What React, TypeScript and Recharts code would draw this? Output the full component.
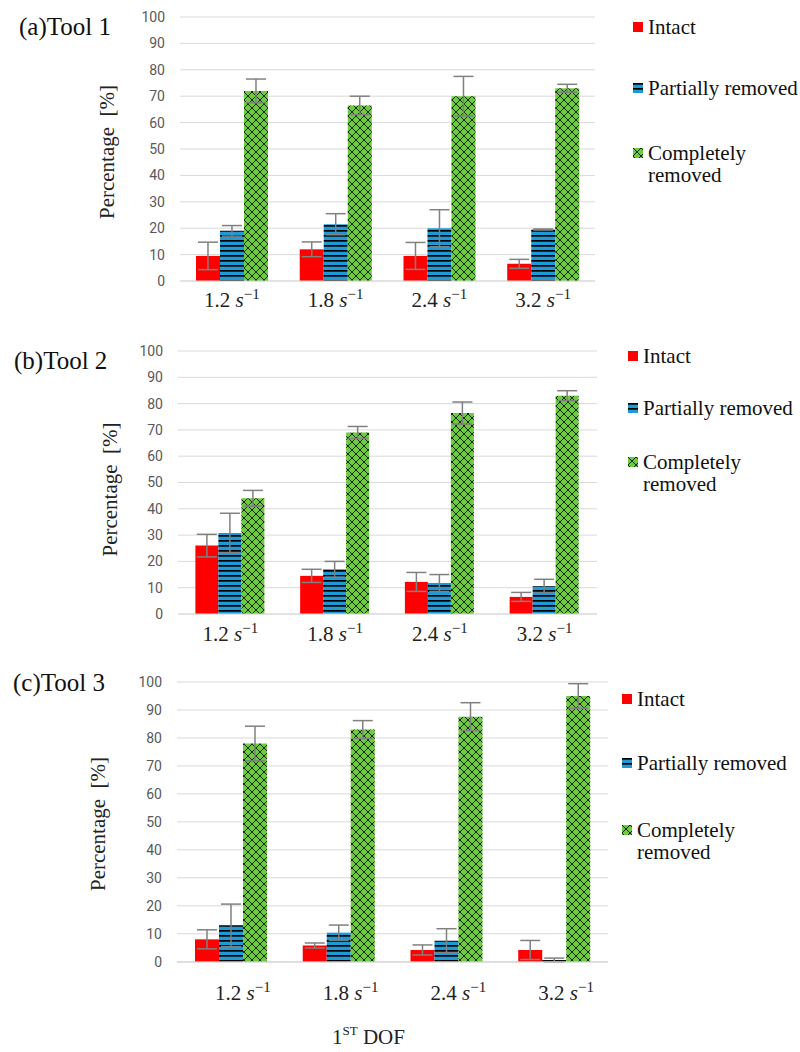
import React from "react";
import { BarChart, Bar, XAxis, YAxis, CartesianGrid, ErrorBar, Legend } from "recharts";

// strain rates on the x axis
const categories = ["1.2", "1.8", "2.4", "3.2"];

const tool1Intact = [9.5, 12, 9.5, 6.5];
const tool1IntactErr = [5.2, 2.8, 5.1, 1.7];
const tool1Partial = [19, 21.5, 20, 19.5];
const tool1PartialErr = [2, 4, 7, 0.2];
const tool1Complete = [72, 66.5, 70, 73];
const tool1CompleteErr = [4.5, 3.5, 7.5, 1.5];

const tool2Intact = [26, 14.5, 12.2, 6.5];
const tool2IntactErr = [4.3, 2.5, 3.6, 1.7];
const tool2Partial = [30.8, 17, 11.8, 10.6];
const tool2PartialErr = [7.5, 3, 3.2, 2.6];
const tool2Complete = [44, 69, 76.4, 83];
const tool2CompleteErr = [3, 2.3, 4.2, 1.9];

const tool3Intact = [8, 5.8, 4.2, 4.2];
const tool3IntactErr = [3.4, 0.9, 1.8, 3.4];
const tool3Partial = [13, 10.4, 7.5, 0.6];
const tool3PartialErr = [7.6, 2.7, 4.3, 0.7];
const tool3Complete = [78, 83, 87.6, 95];
const tool3CompleteErr = [6.2, 3.2, 5, 4.4];

const yTicks = [0, 10, 20, 30, 40, 50, 60, 70, 80, 90, 100];

const serif = '"Liberation Serif", "Times New Roman", serif';

const build = (a: number[], ae: number[], b: number[], be: number[], c: number[], ce: number[]) =>
  categories.map((cat, i) => ({
    cat,
    intact: a[i],
    intactErr: ae[i],
    partial: b[i],
    partialErr: be[i],
    complete: c[i],
    completeErr: ce[i],
  }));

const legendItems = [
  { key: "intact", fill: "#FF0000", lines: ["Intact"] },
  { key: "partial", fill: "url(#hstripe)", lines: ["Partially removed"] },
  { key: "complete", fill: "url(#xhatch)", lines: ["Completely", "removed"] },
];

const PanelLegend = ({ centers }: { centers: number[] }) => (
  <div style={{ position: "relative", width: 180, height: 300, fontFamily: serif, fontSize: 21, color: "#111" }}>
    {legendItems.map((it, i) => (
      <div key={it.key} style={{ position: "absolute", left: 0, top: centers[i] - 11 }}>
        <svg width={10} height={10} style={{ position: "absolute", left: 0, top: 6 }}>
          <rect width={10} height={10} fill={it.fill} />
        </svg>
        <div style={{ position: "absolute", left: 15, top: 0, lineHeight: "22px", whiteSpace: "nowrap" }}>
          {it.lines.map((l) => (
            <div key={l}>{l}</div>
          ))}
        </div>
      </div>
    ))}
  </div>
);

const CatTick = (props: any) => {
  const { x, y, payload, baseline, dx } = props;
  return (
    <text x={x + dx} y={y + baseline} textAnchor="middle" fontFamily={serif} fontSize={21} fill="#222">
      <tspan>{payload.value} </tspan>
      <tspan fontStyle="italic">s</tspan>
      <tspan dy={-8} fontSize={15}>−1</tspan>
    </text>
  );
};

interface PanelProps {
  data: any[];
  title: string;
  top: number;
  height: number;
  marginTop: number;
  marginRight: number;
  yAxisWidth: number;
  xAxisHeight: number;
  gap: string;
  tickBaseline: number;
  tickDx: number;
  titleLeft: number;
  titleCenter: number;
  legendLeft: number;
  legendCenters: number[];
  yLabelX: number;
  yLabelShift: number;
  showXTitle?: boolean;
}

const Panel = (p: PanelProps) => (
  <div style={{ position: "absolute", left: 0, top: p.top, width: 800, height: p.height }}>
    <div
      style={{
        position: "absolute",
        left: p.titleLeft,
        top: p.titleCenter - 13,
        fontFamily: serif,
        fontSize: 25,
        lineHeight: "26px",
        color: "#111",
        whiteSpace: "nowrap",
      }}
    >
      {p.title}
    </div>
    <BarChart
      width={800}
      height={p.height}
      data={p.data}
      margin={{ top: p.marginTop, right: p.marginRight, left: 0, bottom: 0 }}
      barCategoryGap={p.gap}
      barGap={0}
    >
      <CartesianGrid vertical={false} stroke="#d9d9d9" />
      <XAxis
        dataKey="cat"
        height={p.xAxisHeight}
        tickLine={false}
        tickSize={0}
        tickMargin={0}
        axisLine={{ stroke: "#d9d9d9" }}
        interval={0}
        tick={<CatTick baseline={p.tickBaseline} dx={p.tickDx} />}
        label={
          p.showXTitle
            ? (lp: any) => {
                const vb = lp.viewBox;
                return (
                  <text
                    x={vb.x + vb.width / 2 - 24}
                    y={vb.y + 82}
                    textAnchor="middle"
                    fontFamily={serif}
                    fontSize={21}
                    fill="#222"
                  >
                    <tspan>1</tspan>
                    <tspan dy={-9} fontSize={13}>ST</tspan>
                    <tspan dy={9}> DOF</tspan>
                  </text>
                );
              }
            : undefined
        }
      />
      <YAxis
        width={p.yAxisWidth}
        domain={[0, 100]}
        ticks={yTicks}
        interval={0}
        tickLine={false}
        axisLine={false}
        tickSize={0}
        tickMargin={15}
        tick={{ fill: "#595959", fontSize: 14, fontFamily: "Roboto" }}
        label={(lp: any) => {
          const vb = lp.viewBox;
          const cx = vb.x + p.yLabelX;
          const cy = vb.y + vb.height / 2 + p.yLabelShift;
          return (
            <text
              x={cx}
              y={cy}
              transform={`rotate(-90 ${cx} ${cy})`}
              textAnchor="middle"
              dominantBaseline="central"
              fontFamily={serif}
              fontSize={21}
              fill="#222"
            >
              {"Percentage\u00A0\u00A0[%]"}
            </text>
          );
        }}
      />
      <Legend
        layout="vertical"
        align="center"
        verticalAlign="middle"
        wrapperStyle={{ left: p.legendLeft, top: 0, width: 180, height: p.height }}
        content={() => <PanelLegend centers={p.legendCenters} />}
      />
      <Bar dataKey="intact" name="Intact" fill="#FF0000" isAnimationActive={false}>
        <ErrorBar dataKey="intactErr" width={10} stroke="#808080" strokeWidth={1.5} />
      </Bar>
      <Bar dataKey="partial" name="Partially removed" fill="url(#hstripe)" isAnimationActive={false}>
        <ErrorBar dataKey="partialErr" width={10} stroke="#808080" strokeWidth={1.5} />
      </Bar>
      <Bar dataKey="complete" name="Completely removed" fill="url(#xhatch)" isAnimationActive={false}>
        <ErrorBar dataKey="completeErr" width={10} stroke="#808080" strokeWidth={1.5} />
      </Bar>
    </BarChart>
  </div>
);

export default function App() {
  const d1 = build(tool1Intact, tool1IntactErr, tool1Partial, tool1PartialErr, tool1Complete, tool1CompleteErr);
  const d2 = build(tool2Intact, tool2IntactErr, tool2Partial, tool2PartialErr, tool2Complete, tool2CompleteErr);
  const d3 = build(tool3Intact, tool3IntactErr, tool3Partial, tool3PartialErr, tool3Complete, tool3CompleteErr);

  return (
    <div style={{ position: "absolute", left: 0, top: 0, width: 800, height: 1052, background: "#fff" }}>
      <svg width={0} height={0} style={{ position: "absolute" }}>
        <defs>
          <pattern id="hstripe" patternUnits="userSpaceOnUse" width={4} height={5}>
            <rect width={4} height={5} fill="#1E9BD7" />
            <rect y={0} width={4} height={1.7} fill="#000" />
          </pattern>
          <pattern id="xhatch" patternUnits="userSpaceOnUse" width={8} height={8}>
            <rect width={8} height={8} fill="#6DCB3F" />
            <path d="M0,0 L8,8 M8,0 L0,8" stroke="#000" strokeWidth={0.8} />
          </pattern>
        </defs>
      </svg>
      <Panel
        data={d1}
        title="(a)Tool 1"
        top={0}
        height={330}
        marginTop={17}
        marginRight={205}
        yAxisWidth={180}
        xAxisHeight={49}
        gap="15.4%"
        tickBaseline={26}
        tickDx={0}
        titleLeft={19}
        titleCenter={27}
        legendLeft={633}
        legendCenters={[27, 88, 153]}
        yLabelX={107}
        yLabelShift={3}
      />
      <Panel
        data={d2}
        title="(b)Tool 2"
        top={330}
        height={330}
        marginTop={21}
        marginRight={203}
        yAxisWidth={178}
        xAxisHeight={46}
        gap="16.6%"
        tickBaseline={27}
        tickDx={0}
        titleLeft={14}
        titleCenter={31}
        legendLeft={628}
        legendCenters={[26, 78, 132]}
        yLabelX={110}
        yLabelShift={7}
      />
      <Panel
        data={d3}
        title="(c)Tool 3"
        top={660}
        height={392}
        marginTop={22}
        marginRight={192}
        yAxisWidth={177}
        xAxisHeight={90}
        gap="16.7%"
        tickBaseline={38}
        tickDx={12}
        titleLeft={13}
        titleCenter={23}
        legendLeft={622}
        legendCenters={[39, 103, 170]}
        yLabelX={98}
        yLabelShift={2}
        showXTitle
      />
    </div>
  );
}
